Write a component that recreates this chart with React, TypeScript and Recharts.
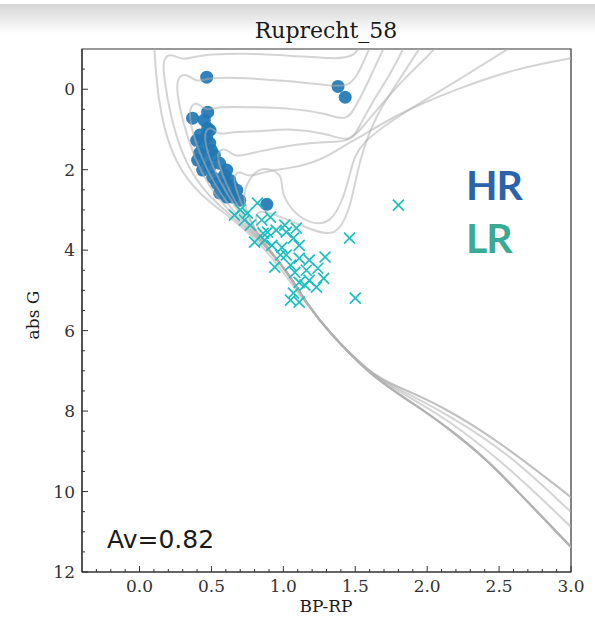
import React from 'react';
import { ComposedChart, Line, Scatter, XAxis, YAxis, ReferenceArea } from 'recharts';

// ---------- tick definitions ----------
const xMajor = [0, 0.5, 1, 1.5, 2, 2.5, 3];
const xMajorLabels = ['0.0', '0.5', '1.0', '1.5', '2.0', '2.5', '3.0'];
const xMinor = [-0.3, -0.2, -0.1, 0.1, 0.2, 0.3, 0.4, 0.6, 0.7, 0.8, 0.9, 1.1, 1.2, 1.3, 1.4, 1.6, 1.7, 1.8, 1.9, 2.1, 2.2, 2.3, 2.4, 2.6, 2.7, 2.8, 2.9];
const yMajor = [0, 2, 4, 6, 8, 10, 12];
const yMajorLabels = ['0', '2', '4', '6', '8', '10', '12'];
const yMinor = [-0.5, 0.5, 1, 1.5, 2.5, 3, 3.5, 4.5, 5, 5.5, 6.5, 7, 7.5, 8.5, 9, 9.5, 10.5, 11, 11.5];

// ---------- stars ----------
const hrStars: [number, number][] = [
  [0.467, -0.3], [1.38, -0.07], [1.43, 0.2], [0.369, 0.72], [0.474, 0.57], [0.45, 0.77],
  [0.474, 0.97], [0.49, 1.02], [0.42, 1.14], [0.467, 1.19], [0.397, 1.27], [0.488, 1.34],
  [0.439, 1.44], [0.5, 1.52], [0.418, 1.59], [0.52, 1.64], [0.404, 1.76], [0.467, 1.76],
  [0.557, 1.84], [0.488, 1.94], [0.439, 2.01], [0.606, 2.01], [0.59, 2.14], [0.509, 2.19],
  [0.627, 2.26], [0.537, 2.34], [0.64, 2.39], [0.578, 2.43], [0.676, 2.51], [0.557, 2.58],
  [0.606, 2.68], [0.648, 2.68], [0.697, 2.76], [0.885, 2.86],
];
const lrStars: [number, number][] = [
  [0.66, 3.13], [0.7, 3.0], [0.75, 3.08], [0.73, 3.25], [0.77, 3.38], [0.82, 2.83],
  [0.85, 3.25], [0.86, 3.58], [0.8, 3.8], [0.89, 3.55], [0.91, 3.18], [0.87, 3.75],
  [0.92, 3.88], [0.95, 3.5], [0.99, 3.93], [1.01, 3.38], [1.02, 3.55], [1.02, 4.12],
  [0.98, 4.12], [1.07, 3.7], [1.09, 3.45], [1.11, 3.88], [0.94, 4.42], [1.05, 4.37],
  [1.11, 4.2], [1.18, 4.25], [1.29, 4.17], [1.08, 4.55], [1.16, 4.5], [1.24, 4.45],
  [1.28, 4.7], [1.18, 4.75], [1.11, 4.8], [1.15, 4.87], [1.23, 4.92], [1.07, 5.07],
  [1.05, 5.24], [1.11, 5.29], [1.46, 3.7], [1.5, 5.19], [1.8, 2.88],
];

// ---------- isochrones (BP-RP, abs G) ----------
const msBase: [number, number][] = [[3.0, 11.38], [2.84, 10.78], [2.6, 9.89], [2.42, 9.22], [2.14, 8.4], [1.9, 7.8], [1.62, 7.16], [1.32, 6.06], [1.16, 5.32]];
const msBaseB: [number, number][] = [[3.0, 10.14], [2.49, 8.72], [2.09, 7.85], [1.8, 7.4], [1.62, 7.12], [1.32, 6.06], [1.16, 5.32]];
const msBaseC: [number, number][] = [[3.0, 10.51], [2.55, 9.0], [2.15, 8.1], [1.8, 7.45], [1.62, 7.14], [1.32, 6.06], [1.16, 5.32]];
const msBaseD: [number, number][] = [[3.0, 10.88], [2.6, 9.5], [2.2, 8.35], [1.9, 7.7], [1.62, 7.15], [1.32, 6.06], [1.16, 5.32]];

const iso1: [number, number][] = [...msBase, [1.09, 5.0], [0.94, 4.25], [0.78, 3.63], [0.61, 3.13], [0.47, 2.76], [0.33, 2.26], [0.21, 1.52], [0.125, 0.27], [0.1, -1.2]];
const iso2: [number, number][] = [...msBaseB, [1.02, 4.5], [0.885, 3.93], [0.72, 3.4], [0.57, 2.95], [0.43, 2.45], [0.3, 1.7], [0.21, 0.6], [0.17, -0.3], [0.16, -0.75], [0.22, -0.9], [0.3, -0.7], [0.4, -0.85], [0.7, -0.9], [1.05, -0.84], [1.35, -0.75], [1.5, -0.8], [1.55, -1.2]];
const iso3: [number, number][] = [...msBaseC, [1.02, 4.5], [0.885, 3.93], [0.74, 3.42], [0.6, 2.95], [0.48, 2.4], [0.38, 1.7], [0.3, 0.8], [0.26, 0.1], [0.26, -0.3], [0.33, -0.4], [0.4, -0.15], [0.48, -0.3], [0.75, -0.28], [1.05, -0.2], [1.3, -0.1], [1.45, -0.05], [1.52, -0.35], [1.62, -1.2]];
const iso4: [number, number][] = [...msBase, [1.02, 4.5], [0.885, 3.93], [0.75, 3.4], [0.62, 2.9], [0.52, 2.35], [0.43, 1.7], [0.36, 1.0], [0.34, 0.45], [0.4, 0.3], [0.46, 0.55], [0.54, 0.42], [0.8, 0.45], [1.05, 0.47], [1.3, 0.6], [1.44, 0.8], [1.5, 0.45], [1.58, -0.1], [1.72, -1.2]];
const iso5: [number, number][] = [...msBaseD, [1.02, 4.5], [0.885, 3.93], [0.76, 3.4], [0.65, 2.85], [0.56, 2.3], [0.48, 1.7], [0.44, 1.05], [0.5, 0.92], [0.55, 1.15], [0.64, 1.05], [0.85, 1.05], [1.05, 0.97], [1.3, 1.1], [1.46, 1.32], [1.52, 1.0], [1.62, 0.3], [1.75, -0.4], [1.86, -1.2]];
const iso6: [number, number][] = [...msBase, [1.02, 4.5], [0.885, 3.93], [0.78, 3.42], [0.68, 2.9], [0.6, 2.35], [0.55, 1.85], [0.54, 1.55], [0.6, 1.45], [0.66, 1.7], [0.76, 1.6], [0.9, 1.5], [1.05, 1.39], [1.3, 1.3], [1.46, 1.32], [1.56, 0.9], [1.7, 0.3], [1.85, -0.3], [2.0, -0.8], [2.1, -1.2]];
const iso7: [number, number][] = [...msBase, [1.02, 4.5], [0.885, 3.93], [0.8, 3.45], [0.72, 2.95], [0.67, 2.5], [0.65, 2.15], [0.7, 2.02], [0.76, 2.2], [0.86, 2.05], [1.05, 1.96], [1.25, 1.8], [1.46, 1.32], [1.52, 1.22], [1.8, 0.6], [2.2, 0.0], [2.6, -0.5], [3.0, -0.77]];
const iso8: [number, number][] = [...msBaseB, [1.02, 4.5], [0.885, 3.93], [0.8, 3.5], [0.74, 3.0], [0.72, 2.6], [0.76, 2.25], [0.84, 1.9], [1.0, 2.09], [0.98, 2.5], [1.05, 3.0], [1.18, 3.35], [1.33, 3.35], [1.42, 2.7], [1.47, 2.0], [1.52, 1.35], [1.85, 0.55], [2.25, -0.3], [2.65, -1.2]];
const iso9: [number, number][] = [...msBase, [1.02, 4.5], [0.885, 3.93], [0.82, 3.45], [0.8, 3.1], [0.86, 3.0], [1.0, 3.2], [1.2, 3.5], [1.37, 3.68], [1.46, 3.0], [1.5, 2.3], [1.55, 1.52], [1.65, 0.6], [1.8, -0.2], [1.98, -1.2]];

const isochrones = [iso1, iso2, iso3, iso4, iso5, iso6, iso7, iso8, iso9];

const toObj = (arr: [number, number][]) => arr.map(([x, y]) => ({ x, y }));

const TICK_COLOR = '#333';
const SERIF = 'DejaVu Serif, serif';

const XTick = (props: any) => {
  const { x, y, payload } = props;
  const v = Math.round(payload.value * 10) / 10;
  const idx = xMajor.indexOf(v);
  const major = idx >= 0;
  return (
    <g>
      <line x1={x} x2={x} y1={y} y2={y - (major ? 6 : 3)} stroke={TICK_COLOR} strokeWidth={1} />
      {major && (
        <text x={x} y={y + 20} textAnchor="middle" fontFamily={SERIF} fontSize={17} fill="#333">
          {xMajorLabels[idx]}
        </text>
      )}
    </g>
  );
};

const YTick = (props: any) => {
  const { x, y, payload } = props;
  const v = payload.value;
  const idx = yMajor.indexOf(v);
  const major = idx >= 0;
  return (
    <g>
      <line x1={x} x2={x + (major ? 6 : 3)} y1={y} y2={y} stroke={TICK_COLOR} strokeWidth={1} />
      {major && (
        <text x={x - 7} y={y + 6} textAnchor="end" fontFamily={SERIF} fontSize={17} fill="#333">
          {yMajorLabels[idx]}
        </text>
      )}
    </g>
  );
};

const Circle = (props: any) => {
  const { cx, cy } = props;
  return <circle cx={cx} cy={cy} r={6.5} fill="#1f77b4" fillOpacity={0.92} />;
};

const Cross = (props: any) => {
  const { cx, cy } = props;
  const s = 5.5;
  return (
    <path
      d={`M${cx - s},${cy - s}L${cx + s},${cy + s}M${cx - s},${cy + s}L${cx + s},${cy - s}`}
      stroke="#1cbfbf"
      strokeWidth={1.7}
      fill="none"
    />
  );
};

export default function App() {
  const xTicks = [...xMajor, ...xMinor].sort((a, b) => a - b);
  const yTicks = [...yMajor, ...yMinor].sort((a, b) => a - b);
  return (
    <div style={{ position: 'absolute', left: 0, top: 0, width: 595, height: 625, background: '#fff', overflow: 'hidden' }}>
      <div style={{ position: 'absolute', left: 0, top: 4, width: 595, height: 30, background: 'linear-gradient(#d6d6d6, #ffffff)' }} />
      <div style={{ position: 'absolute', left: 0, top: 0 }}>
        <ComposedChart width={595} height={625} margin={{ top: 49, right: 24, left: 0, bottom: 0 }}>
          <XAxis
            type="number"
            dataKey="x"
            domain={[-0.4, 3.0]}
            allowDataOverflow
            ticks={xTicks}
            interval={0}
            tick={<XTick />}
            tickLine={false}
            tickSize={0}
            tickMargin={0}
            height={53}
            axisLine={{ stroke: TICK_COLOR, strokeWidth: 1.2 }}
          />
          <YAxis
            type="number"
            dataKey="y"
            domain={[-1, 12]}
            reversed
            allowDataOverflow
            ticks={yTicks}
            interval={0}
            tick={<YTick />}
            tickLine={false}
            tickSize={0}
            tickMargin={0}
            width={82}
            axisLine={{ stroke: TICK_COLOR, strokeWidth: 1.2 }}
          />
          <ReferenceArea x1={-0.4} x2={3.0} y1={-1} y2={12} fill="none" stroke={TICK_COLOR} strokeWidth={1.2} ifOverflow="visible" />
          <Scatter data={toObj(hrStars)} dataKey="y" shape={<Circle />} isAnimationActive={false} zIndex={500} />
          {isochrones.map((iso, i) => (
            <Line
              key={i}
              data={toObj(iso)}
              dataKey="y"
              type="basis"
              stroke="#b0b0b0"
              strokeOpacity={0.55}
              strokeWidth={2}
              dot={false}
              activeDot={false}
              isAnimationActive={false}
              zIndex={550}
            />
          ))}
          <Scatter data={toObj(lrStars)} dataKey="y" shape={<Cross />} isAnimationActive={false} zIndex={600} />
        </ComposedChart>
      </div>
      <svg style={{ position: 'absolute', left: 0, top: 0, pointerEvents: 'none' }} width={595} height={625}>
        <text x={326} y={38} textAnchor="middle" fontFamily={SERIF} fontSize={22} fill="#1a1a1a">Ruprecht_58</text>
        <text x={326} y={612} textAnchor="middle" fontFamily={SERIF} fontSize={17} fill="#1a1a1a">BP-RP</text>
        <text x={39} y={315} textAnchor="middle" fontFamily={SERIF} fontSize={17} fill="#1a1a1a" transform="rotate(-90, 39, 315)">abs G</text>
        <text x={107} y={548} fontFamily="DejaVu Sans, sans-serif" fontSize={25} fill="#1a1a1a">Av=0.82</text>
        <text x={466} y={200} fontFamily="Lato, sans-serif" fontWeight={700} fontSize={41} letterSpacing={-1} fill="#2b63ab">HR</text>
        <text x={466} y={253} fontFamily="Lato, sans-serif" fontWeight={700} fontSize={41} letterSpacing={-1} fill="#3aaa96">LR</text>
      </svg>
    </div>
  );
}
